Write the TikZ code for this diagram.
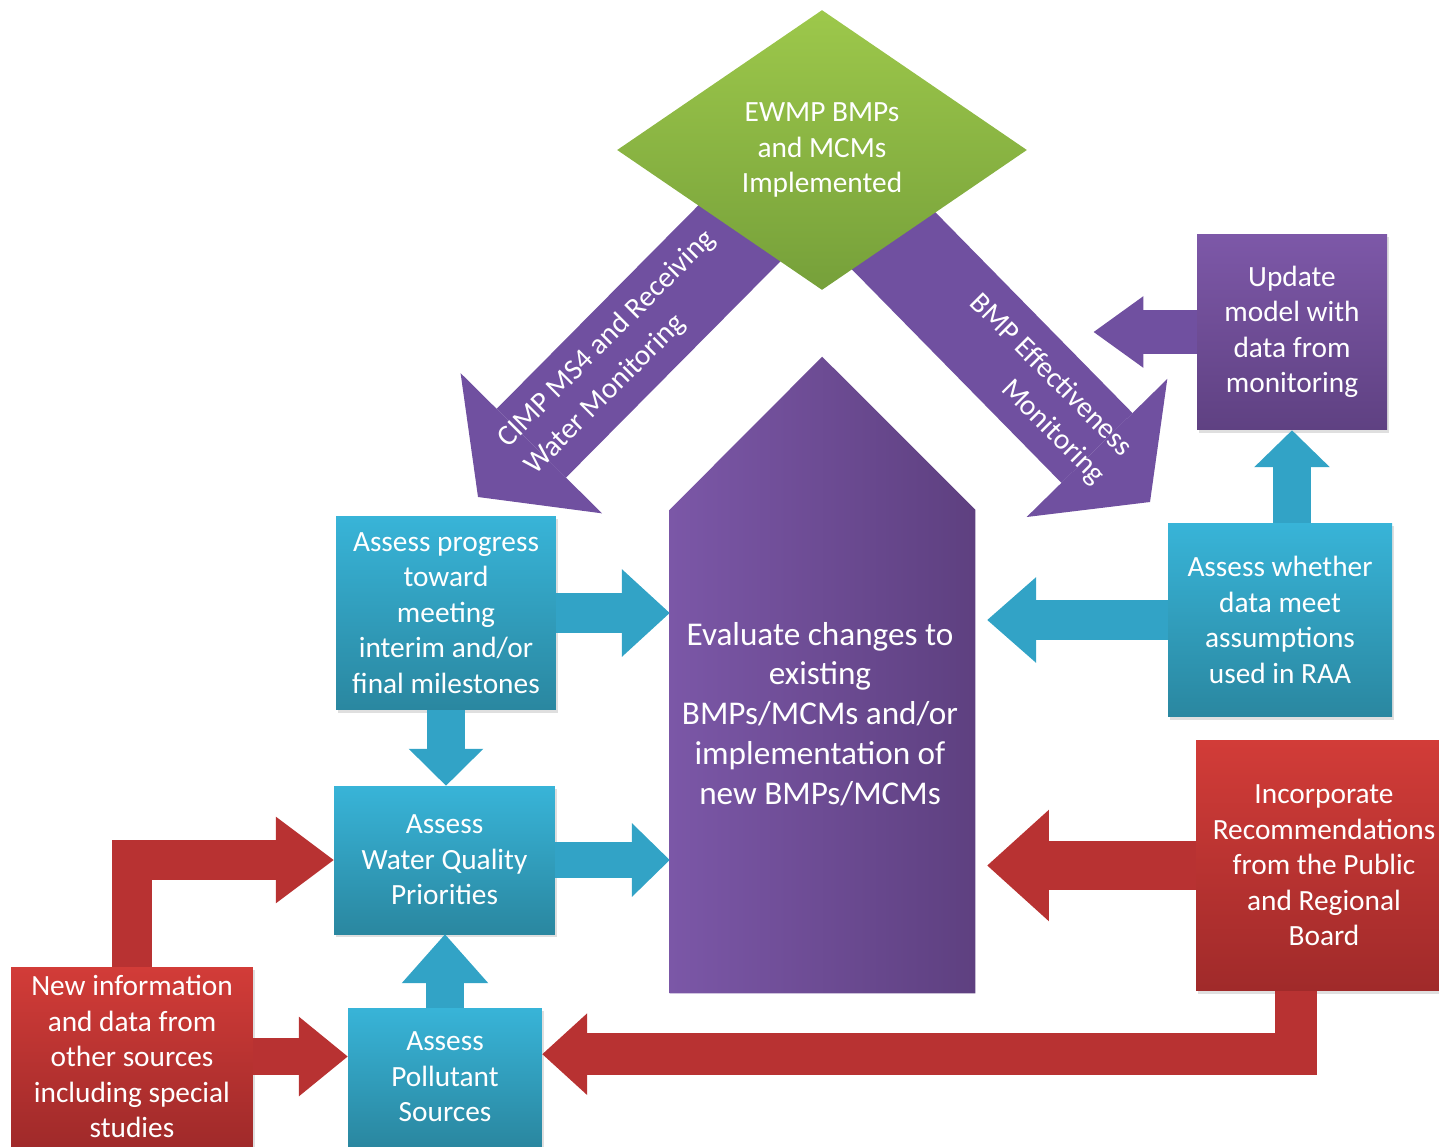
\documentclass[tikz,border=0pt]{standalone}
\usepackage{fontspec}
\setmainfont{Carlito}
\usetikzlibrary{arrows.meta,shapes.geometric,backgrounds,shadows}

\definecolor{cyantop}{HTML}{38B4D8}
\definecolor{cyanbot}{HTML}{2A87A0}
\definecolor{cyanarr}{HTML}{32A3C6}
\definecolor{purptop}{HTML}{7D58A8}
\definecolor{purpbot}{HTML}{5F4182}
\definecolor{purparr}{HTML}{7050A0}
\definecolor{evalleft}{HTML}{7B57A7}
\definecolor{evalright}{HTML}{5E4080}
\definecolor{redtop}{HTML}{D23C38}
\definecolor{redbot}{HTML}{A02A2A}
\definecolor{redarr}{HTML}{B83232}
\definecolor{greentop}{HTML}{9DC84B}
\definecolor{greenbot}{HTML}{76A03A}

\begin{document}
\begin{tikzpicture}[x=0.02cm, y=-0.02cm,
  box/.style={rectangle, inner sep=1pt, align=center, text=white,
    font=\fontsize{16.7}{20.2}\selectfont,
    drop shadow={shadow xshift=1pt, shadow yshift=-1.5pt, opacity=0.25}},
  cyanbox/.style={box, top color=cyantop, bottom color=cyanbot},
  purplebox/.style={box, top color=purptop, bottom color=purpbot},
  redbox/.style={box, top color=redtop, bottom color=redbot},
  fat/.style n args={3}{line width=#1pt, line join=miter,
    -{Triangle[width=#2pt, length=#3pt, line width=0pt]}},
  armtext/.style={text=white, inner sep=0pt, font=\fontsize{16.7}{22}\selectfont}]
\useasboundingbox (0, 0) rectangle (1439, 1146);

\node (ewmp) at (822, 150) [shape=diamond, minimum width=8.2cm, minimum height=5.6cm,
  inner sep=0pt, top color=greentop, bottom color=greenbot, text=white, align=center,
  font=\fontsize{16.7}{20.2}\selectfont] {EWMP BMPs\\and MCMs\\Implemented};

% central up-pointing block
\node (evalbox) at (822.5, 751.5) [minimum width=6.1cm, minimum height=9.66cm, inner sep=0pt] {};
\shade [left color=evalleft, right color=evalright] (evalbox.south west) -- (evalbox.north west)
  -- ++(152.5, -153) -- (evalbox.north east) -- (evalbox.south east) -- cycle;
\node (evaluate) at (820, 714) [align=center, text=white, font=\fontsize{18.9}{22.7}\selectfont]
  {Evaluate changes to\\existing\\BMPs/MCMs and/or\\implementation of\\new BMPs/MCMs};
\coordinate (evalgap) at ([xshift=6.8pt]evalbox.east);

\node (progress) at (446, 613) [cyanbox, minimum width=4.4cm, minimum height=3.88cm]
  {Assess progress\\toward\\meeting\\interim and/or\\final milestones};
\node (wqp) at (444.5, 860) [cyanbox, minimum width=4.42cm, minimum height=2.96cm]
  {Assess\\Water Quality\\Priorities};
\node (sources) at (445, 1077) [cyanbox, minimum width=3.88cm, minimum height=2.76cm]
  {Assess\\Pollutant\\Sources};
\node (newinfo) at (132, 1056.5) [redbox, minimum width=4.84cm, minimum height=3.58cm]
  {New information\\and data from\\other sources\\including special\\studies};
\node (recs) at (1324, 865.5) [redbox, minimum width=5.12cm, minimum height=5.02cm]
  {Incorporate\\Recommendations\\from the Public\\and Regional\\Board};
\node (assumptions) at (1280, 620) [cyanbox, minimum width=4.48cm, minimum height=3.88cm]
  {Assess whether\\data meet\\assumptions\\used in RAA};
\node (update) at (1292, 332) [purplebox, minimum width=3.8cm, minimum height=3.92cm]
  {Update\\model with\\data from\\monitoring};

% monitoring arms under the diamond
\coordinate (cimptip) at (478, 497);
\coordinate (bmptail) at (830, 176);
\coordinate (bmptip) at (1150, 502);
\begin{scope}[on background layer]
\draw [fat={55.6}{113.4}{43.1}, purparr] (ewmp.center) -- (cimptip);
\draw [fat={56.7}{112.2}{43.1}, purparr] (bmptail) -- (bmptip);
\end{scope}
\node (cimplabel) at (516, 457) [armtext, rotate=45, anchor=west, align=left]
  {CIMP MS4 and Receiving\\Water Monitoring};
\node (bmplabel) at (1114, 466) [armtext, rotate=-45, anchor=east, align=right]
  {BMP Effectiveness\\Monitoring};

\draw [fat={23.2}{49.9}{27.2}, cyanarr] (progress.east) -- (progress.east -| evalbox.west);
\draw [fat={21.5}{42.5}{21}, cyanarr] (progress.south) -- (progress.south |- wqp.north);
\draw [fat={20.4}{42}{21.5}, cyanarr] (wqp.east) -- (wqp.east -| evalbox.west);
\draw [fat={21.5}{49.3}{27.8}, cyanarr] (sources.north) -- (sources.north |- wqp.south);
\draw [fat={23.2}{49.3}{32.9}, redarr] (newinfo.north) |- (wqp.west);
\draw [fat={21.5}{45.4}{27.8}, redarr] (newinfo.east) -- (newinfo.east -| sources.west);
\draw [fat={28.3}{63.5}{35.1}, redarr] (recs.west) -- (recs.west -| evalgap);
\draw [fat={23.8}{46.5}{25.5}, redarr] ([xshift=-15.9pt]recs.south) |- ([yshift=13pt]sources.east);
\draw [fat={22.7}{48.8}{27.8}, cyanarr] (assumptions.west) -- (assumptions.west -| evalgap);
\draw [fat={22.1}{43.1}{21}, cyanarr] (update.south |- assumptions.north) -- (update.south);
\draw [fat={25.5}{40.8}{28.3}, purparr] (update.west) -- ++(-103, 0);
\end{tikzpicture}
\end{document}
